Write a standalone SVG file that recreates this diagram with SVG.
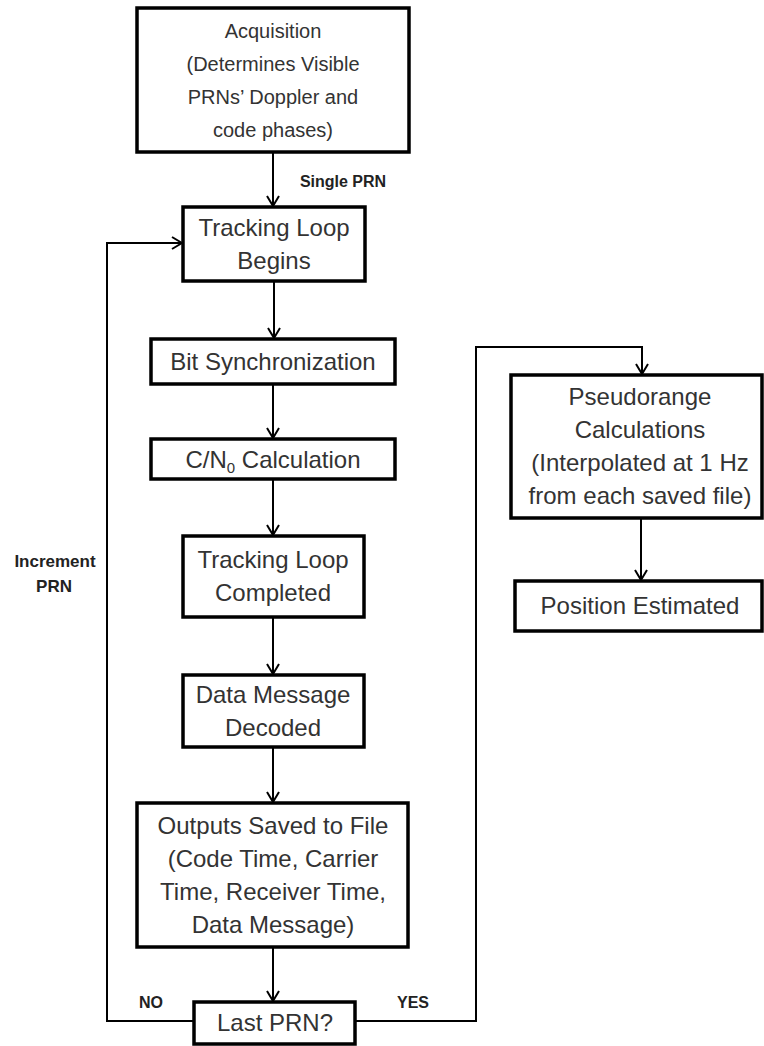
<svg xmlns="http://www.w3.org/2000/svg" width="764" height="1046" viewBox="0 0 764 1046">
<style>
.box{fill:#fff;stroke:#000;stroke-width:3.5}
.t{font-family:"Liberation Sans",Arial,sans-serif;font-size:24px;fill:#333;text-anchor:middle}
.ts{font-family:"Liberation Sans",Arial,sans-serif;font-size:20px;fill:#333;text-anchor:middle}
.lbl{font-family:"Liberation Sans",Arial,sans-serif;font-size:16px;font-weight:bold;fill:#222;text-anchor:middle}
.c{fill:none;stroke:#000;stroke-width:2}
</style>
<defs>
<marker id="arr" viewBox="0 0 12 14" refX="11" refY="7" markerWidth="12" markerHeight="14" markerUnits="userSpaceOnUse" orient="auto">
<path d="M1,1 L11,7 L1,13" fill="none" stroke="#000" stroke-width="2"/>
</marker>
</defs>
<rect width="764" height="1046" fill="#fff"/>
<g id="connectors">
<path class="c" d="M273,152 V206" marker-end="url(#arr)"/>
<path class="c" d="M274,281 V338" marker-end="url(#arr)"/>
<path class="c" d="M273,384 V438" marker-end="url(#arr)"/>
<path class="c" d="M273,479 V535" marker-end="url(#arr)"/>
<path class="c" d="M273,617 V674" marker-end="url(#arr)"/>
<path class="c" d="M273,747 V802" marker-end="url(#arr)"/>
<path class="c" d="M273,947 V1001" marker-end="url(#arr)"/>
<path class="c" d="M194,1021 H107 V243 H182" marker-end="url(#arr)"/>
<path class="c" d="M355,1021 H476 V347 H642 V374" marker-end="url(#arr)"/>
<path class="c" d="M641,518 V580" marker-end="url(#arr)"/>
<text class="lbl" x="343" y="187">Single PRN</text>
<text class="lbl" x="55" y="567" style="font-size:17px">Increment</text>
<text class="lbl" x="54" y="592" style="font-size:17px">PRN</text>
<text class="lbl" x="151" y="1008">NO</text>
<text class="lbl" x="413" y="1008">YES</text>
</g>
<g id="acquisition">
<rect class="box" x="137" y="8" width="272" height="144"/>
<text class="ts" x="273" y="38">Acquisition</text>
<text class="ts" x="273" y="71">(Determines Visible</text>
<text class="ts" x="273" y="104">PRNs’ Doppler and</text>
<text class="ts" x="273" y="137">code phases)</text>
</g>
<g id="tracking-begins">
<rect class="box" x="183" y="207" width="182" height="74"/>
<text class="t" x="274" y="236">Tracking Loop</text>
<text class="t" x="274" y="269">Begins</text>
</g>
<g id="bit-sync">
<rect class="box" x="151" y="339" width="244" height="45"/>
<text class="t" x="273" y="370">Bit Synchronization</text>
</g>
<g id="cn0">
<rect class="box" x="151" y="439" width="244" height="40"/>
<text class="t" x="273" y="468">C/N<tspan font-size="15" dy="5">0</tspan><tspan dy="-5"> Calculation</tspan></text>
</g>
<g id="tracking-completed">
<rect class="box" x="183" y="536" width="181" height="81"/>
<text class="t" x="273" y="568">Tracking Loop</text>
<text class="t" x="273" y="601">Completed</text>
</g>
<g id="data-decoded">
<rect class="box" x="183" y="675" width="181" height="72"/>
<text class="t" x="273" y="703">Data Message</text>
<text class="t" x="273" y="736">Decoded</text>
</g>
<g id="outputs-saved">
<rect class="box" x="137" y="803" width="271" height="144"/>
<text class="t" x="273" y="834">Outputs Saved to File</text>
<text class="t" x="273" y="867">(Code Time, Carrier</text>
<text class="t" x="273" y="900">Time, Receiver Time,</text>
<text class="t" x="273" y="933">Data Message)</text>
</g>
<g id="last-prn">
<rect class="box" x="194" y="1002" width="161" height="42"/>
<text class="t" x="275" y="1031">Last PRN?</text>
</g>
<g id="pseudorange">
<rect class="box" x="511" y="375" width="251" height="143"/>
<text class="t" x="640" y="405">Pseudorange</text>
<text class="t" x="640" y="438">Calculations</text>
<text class="t" x="640" y="471">(Interpolated at 1 Hz</text>
<text class="t" x="640" y="504">from each saved file)</text>
</g>
<g id="position">
<rect class="box" x="515" y="581" width="247" height="50"/>
<text class="t" x="640" y="614">Position Estimated</text>
</g>
</svg>
